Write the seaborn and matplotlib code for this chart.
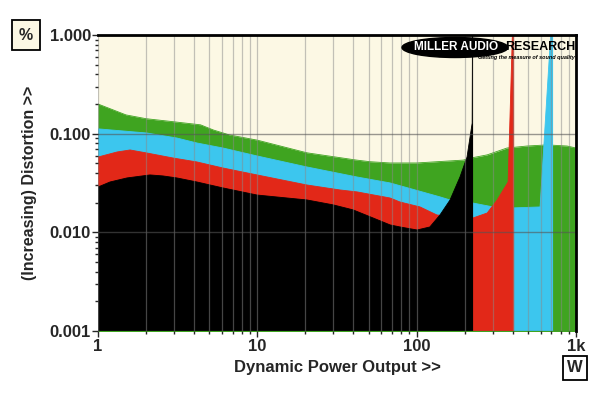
# Miller Audio Research style dynamic power / distortion chart

import numpy as np
import matplotlib
matplotlib.use("Agg")
import matplotlib.pyplot as plt
import matplotlib.ticker as mticker
from matplotlib.patches import Ellipse
import seaborn as sns

# ------------------- Data -------------------

green_w = [1, 1.5, 2.0, 3.0, 4.4, 5.3, 6.7, 10, 20.5, 42, 51, 68, 100, 196, 223, 277, 369, 493, 659, 879, 1000]
green_pct = [0.20, 0.155, 0.142, 0.132, 0.123, 0.109, 0.097, 0.086, 0.064, 0.054, 0.052, 0.0505,
             0.0505, 0.054, 0.057, 0.061, 0.0716, 0.075, 0.077, 0.075, 0.0716]

blue_w = [1, 2.03, 3.13, 4.18, 6.09, 9.96, 20.5, 42.3, 68.1, 140, 162, 223, 302, 403, 595, 698, 718]
blue_pct = [0.112, 0.1016, 0.0904, 0.0805, 0.0716, 0.0595, 0.046, 0.0364, 0.0317, 0.0229,
            0.0213, 0.0199, 0.0181, 0.0177, 0.0181, 1.2, 1.2]

red_w = [1, 1.32, 1.59, 2.03, 2.96, 4.18, 6.09, 9.96, 20.5, 33, 42.3, 68.1, 78.7, 105, 134,
         226, 277, 320, 375, 400, 409]
red_pct = [0.058, 0.0653, 0.0684, 0.0637, 0.0567, 0.0517, 0.0449, 0.0382, 0.0302, 0.0269,
           0.0257, 0.0223, 0.0203, 0.0181, 0.0150, 0.0140, 0.0157, 0.0213, 0.0324, 1.2, 1.2]

black_w = [1, 1.19, 1.52, 2.12, 2.56, 3.13, 4.18, 6.09, 9.96, 20.5, 29.9, 39.9, 53.2, 68.1,
           78.7, 100.6, 121, 140, 162, 187, 207, 223, 224, 226]
black_pct = [0.0288, 0.0324, 0.0356, 0.0382, 0.0373, 0.0356, 0.0324, 0.0282, 0.0239, 0.0213,
             0.019, 0.0169, 0.014, 0.0119, 0.01134, 0.01057, 0.01134, 0.0150, 0.0213, 0.0364,
             0.058, 0.128, 1.2, 1.2]

x_ticks = [1, 10, 100, 1000]
x_labels = ["1", "10", "100", "1k"]
y_ticks = [0.001, 0.01, 0.1, 1.0]
y_labels = ["0.001", "0.010", "0.100", "1.000"]

series = [
    (green_w, green_pct, "#3fa420"),
    (blue_w, blue_pct, "#3cc6ee"),
    (red_w, red_pct, "#e22818"),
    (black_w, black_pct, "#000000"),
]

# ------------------- Plot -------------------

sns.set_style("ticks")
plt.rcParams["font.family"] = ["Liberation Sans", "DejaVu Sans"]
plt.rcParams["font.weight"] = "bold"

fig = plt.figure(figsize=(6, 3.98), dpi=100)
ax = fig.add_axes([0.1633, 0.1683, 0.7967, 0.7437])
ax.set_facecolor("#fcf8e4")

for i, (w, pct, col) in enumerate(series):
    ax.fill_between(w, 0.0001, pct, color=col, linewidth=0, zorder=1 + i * 0.1)
    sns.lineplot(x=w, y=pct, ax=ax, color=col, linewidth=0.6, sort=False,
                 estimator=None, zorder=1.05 + i * 0.1)

ax.set_xscale("log")
ax.set_yscale("log")
ax.set_xlim(1, 1000)
ax.set_ylim(0.001, 1.0)

ax.set_xticks(x_ticks)
ax.set_xticklabels(x_labels)
ax.set_yticks(y_ticks)
ax.set_yticklabels(y_labels)
ax.xaxis.set_minor_locator(mticker.LogLocator(base=10, subs=np.arange(2, 10)))
ax.yaxis.set_minor_locator(mticker.LogLocator(base=10, subs=np.arange(2, 10)))
ax.xaxis.set_minor_formatter(mticker.NullFormatter())
ax.yaxis.set_minor_formatter(mticker.NullFormatter())

ax.set_axisbelow(False)
ax.grid(axis="x", which="both", color="#8a8a8a", alpha=0.5, linewidth=0.9)
ax.grid(axis="y", which="major", color="#555555", alpha=0.6, linewidth=1.0)

ax.tick_params(axis="both", which="major", length=4, width=1, labelsize=12, pad=2)
ax.tick_params(axis="both", which="minor", length=2.5, width=1)
ax.tick_params(axis="y", labelsize=12, pad=1)

for side in ["left", "bottom"]:
    ax.spines[side].set_visible(False)
for side in ["top", "right"]:
    ax.spines[side].set_linewidth(2)
    ax.spines[side].set_color("black")
    ax.spines[side].set_zorder(10)

ax.set_xlabel("Dynamic Power Output >>", fontsize=12, fontweight="bold", labelpad=4)
ax.set_ylabel("(Increasing) Distortion >>", fontsize=11.5, fontweight="bold", labelpad=9)

# unit boxes
fig.text(26 / 600, 1 - 35 / 398, "%", ha="center", va="center", fontsize=11.5, fontweight="bold",
         bbox=dict(boxstyle="square,pad=0.45", fc="#fcf8e4", ec="black", lw=1.3))
fig.text(575 / 600, 1 - 368 / 398, "W", ha="center", va="center", fontsize=12, fontweight="bold",
         bbox=dict(boxstyle="square,pad=0.25", fc="white", ec="black", lw=1.3))

# logo
fig.patches.append(Ellipse((455 / 600, 1 - 47.5 / 398), 106 / 600, 20 / 398,
                           transform=fig.transFigure, fc="black", ec="black", zorder=19))
fig.text(456 / 600, 1 - 47 / 398, "MILLER AUDIO", ha="center", va="center", color="white",
         fontsize=8.5, fontweight="bold", zorder=20)
fig.text(540 / 600, 1 - 47 / 398, "RESEARCH", ha="center", va="center", color="black",
         fontsize=9, fontweight="bold", zorder=21)
fig.text(575 / 600, 1 - 57.5 / 398, "Getting the measure of sound quality", ha="right", va="center",
         color="black", fontsize=4, fontweight="bold", style="italic", zorder=21)

fig.savefig("out.png", dpi=100)
